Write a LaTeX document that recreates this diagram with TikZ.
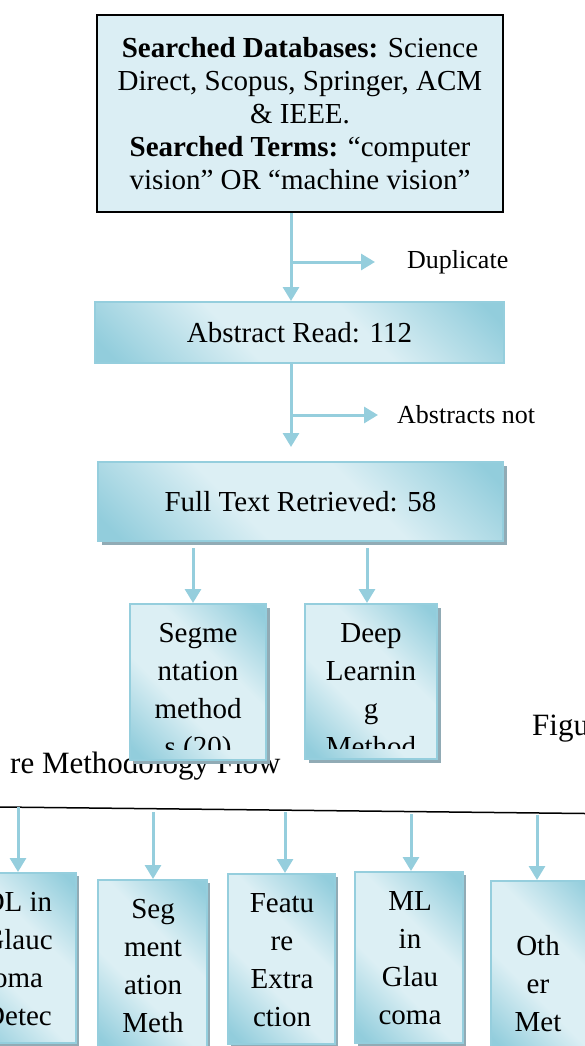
\documentclass[tikz,border=0pt]{standalone}
\usepackage{fontspec}
\setmainfont{Liberation Serif}
\usetikzlibrary{arrows.meta,shadows}
\definecolor{tealdark}{HTML}{92CDDC}
\definecolor{teallight}{HTML}{DCEFF4}
\definecolor{tealline}{HTML}{95CEDD}
\definecolor{shadowgray}{HTML}{91ABB5}
\definecolor{searchfill}{HTML}{DBEEF4}
\pgfdeclarehorizontalshading{tealshade}{100bp}{color(0bp)=(tealdark); color(18bp)=(tealdark); color(40bp)=(teallight); color(60bp)=(teallight); color(82bp)=(tealdark); color(100bp)=(tealdark)}

\begin{document}
\begin{tikzpicture}[x=1pt,y=-1pt,
  searchbox/.style={rectangle, draw=black, line width=2pt, fill=searchfill, align=center, font=\fontsize{29}{33}\selectfont},
  tealbox/.style={rectangle, draw=tealline, line width=2pt, shading=tealshade, shading angle=45, inner sep=0pt, font=\fontsize{29}{33}\selectfont},
  shadowed/.style={drop shadow={shadow xshift=#1, shadow yshift=-#1, fill=shadowgray, opacity=1}},
  shadowed/.default=4pt,
  boxtext/.style={inner sep=0pt, align=center, anchor=north, font=\fontsize{29}{38}\selectfont},
  sidetext/.style={inner sep=0pt, anchor=west, font=\fontsize{26}{30}\selectfont},
  captext/.style={inner sep=0pt, anchor=base west, font=\fontsize{31}{36}\selectfont},
  flow/.style={draw=tealline, line width=3pt, -{Triangle[width=16pt,length=14pt]}}]
\clip (0,0) rectangle (585,1046);

% search and screening
\node[searchbox, minimum width=406pt, minimum height=197pt] (search) at (300,113.5) {\textbf{Searched Databases:} Science\\Direct, Scopus, Springer, ACM\\\& IEEE.\\\textbf{Searched Terms:} “computer\\vision” OR “machine vision”};
\node[tealbox, minimum width=409pt, minimum height=61pt] (abs) at (299.5,332.5) {Abstract Read: 112};
\node[tealbox, shadowed, minimum width=405pt, minimum height=79pt] (full) at (300.5,501.5) {Full Text Retrieved: 58};

\node[sidetext] (dupl) at (407,262) {Duplicate};
\node[sidetext] (absn) at (397,415) {Abstracts not};
\coordinate (dup) at (291,262);
\coordinate (abn) at (291,415);
\draw[flow] (search.south -| dup) -- (abs.north -| dup);
\draw[flow] (dup) -- ([xshift=-32pt]dupl.west);
\draw[flow, shorten >=14pt] (abs.south -| abn) -- (full.north -| abn);
\draw[flow] (abn) -- ([xshift=-19pt]absn.west);

% caption, lies under the boxes
\node[captext] (figa) at (532,735) {Figu};
\node[captext] (figb) at (10,773) {re Methodology Flow};

% retrieved papers
\node[tealbox, shadowed, minimum width=136pt, minimum height=156pt] (segm) at (198,682) {};
\node[tealbox, shadowed, minimum width=132pt, minimum height=155pt] (deep) at (371,681.5) {};
\begin{scope}
\clip (segm.north west) rectangle ([yshift=12pt]segm.south east);
\node[boxtext] (segm-t) at ([yshift=-12.7pt]segm.north) {\strut Segme\\ntation\\method\\s (20)};
\end{scope}
\begin{scope}
\clip (deep.north west) rectangle ([yshift=12pt]deep.south east);
\node[boxtext] (deep-t) at ([yshift=-12.7pt]deep.north) {\strut Deep\\Learnin\\g\\Method};
\end{scope}
\coordinate (sa) at (193,547);
\coordinate (da) at (367,547);
\draw[flow, shorten <=6pt] (full.south -| sa) -- (segm.north -| sa);
\draw[flow, shorten <=6pt] (full.south -| da) -- (deep.north -| da);

% categories
\coordinate (rl) at (0,807);
\coordinate (rr) at (585,813.5);
\draw[line width=1.5pt] (rl) -- (rr);
\node[tealbox, shadowed=3pt, minimum width=108pt, minimum height=170pt, anchor=north] (dlg) at (22,872) {};
\node[tealbox, shadowed=3pt, minimum width=109pt, minimum height=170pt, anchor=north] (segb) at (152.5,879) {};
\node[tealbox, shadowed=3pt, minimum width=107pt, minimum height=170pt, anchor=north] (feat) at (281.5,873) {};
\node[tealbox, shadowed=3pt, minimum width=108pt, minimum height=171pt, anchor=north] (mlg) at (409,871) {};
\node[tealbox, shadowed=3pt, minimum width=108pt, minimum height=170pt, anchor=north] (oth) at (545,880) {};
\node[boxtext] (dlg-t) at (18,884.7) {\strut DL in\\Glauc\\oma\\Detec};
\node[boxtext] (segb-t) at (153,891.7) {\strut Seg\\ment\\ation\\Meth};
\node[boxtext] (feat-t) at (282,885.7) {\strut Featu\\re\\Extra\\ction};
\node[boxtext] (mlg-t) at (410,883.7) {\strut ML\\in\\Glau\\coma};
\node[boxtext] (oth-t) at (538,928.7) {\strut Oth\\er\\Met};
\coordinate (a1) at (18,807);
\coordinate (a2) at (153,812);
\coordinate (a3) at (285,812);
\coordinate (a4) at (411,814);
\coordinate (a5) at (537,815);
\draw[flow] (a1) -- (a1 |- dlg.north);
\draw[flow] (a2) -- (a2 |- segb.north);
\draw[flow] (a3) -- (a3 |- feat.north);
\draw[flow] (a4) -- (a4 |- mlg.north);
\draw[flow] (a5) -- (a5 |- oth.north);
\end{tikzpicture}
\end{document}
